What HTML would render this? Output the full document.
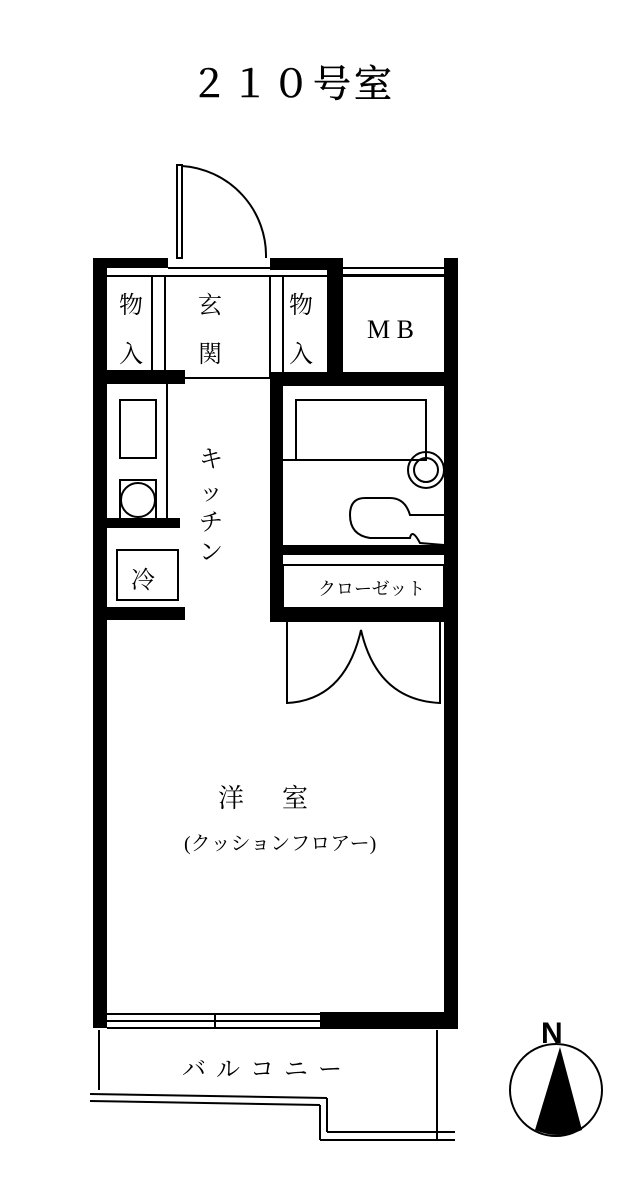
<!DOCTYPE html>
<html><head><meta charset="utf-8"><style>
html,body{margin:0;padding:0;background:#fff}
svg{display:block}
text{font-family:"Liberation Serif","Noto Serif CJK SC",serif;fill:#000}
</style></head><body>
<svg width="627" height="1190" viewBox="0 0 627 1190" xmlns="http://www.w3.org/2000/svg">
<rect width="627" height="1190" fill="#fff"/>
<text x="190" y="97" font-size="38" letter-spacing="3" stroke="#000" stroke-width="0.6">２１０号室</text>

<g fill="none" stroke="#000" stroke-width="2">
<rect x="177" y="165" width="5" height="93"/>
<path d="M182 166 A90 90 0 0 1 266 258"/>
</g>

<g fill="#000">
<rect x="93" y="258" width="14" height="770"/>
<rect x="444" y="258" width="14" height="770"/>
<rect x="93" y="258" width="75" height="10"/>
<rect x="270" y="258" width="73" height="12"/>
<rect x="327" y="258" width="16" height="120"/>
<rect x="93" y="370" width="92" height="14"/>
<rect x="270" y="372" width="188" height="14"/>
<rect x="270" y="372" width="13" height="250"/>
<rect x="270" y="545" width="188" height="10"/>
<rect x="270" y="608" width="188" height="14"/>
<rect x="107" y="518" width="73" height="10"/>
<rect x="107" y="607" width="78" height="13"/>
<rect x="93" y="1012" width="14" height="16"/>
<rect x="320" y="1012" width="138" height="16"/>
</g>
<g fill="none" stroke="#000" stroke-width="2">
<line x1="168" y1="268" x2="270" y2="268"/>
<line x1="107" y1="276" x2="444" y2="276"/>
<line x1="343" y1="268" x2="444" y2="268"/>
<line x1="343" y1="275" x2="444" y2="275"/>
<line x1="152" y1="276" x2="152" y2="370"/>
<line x1="165" y1="276" x2="165" y2="378"/>
<line x1="270" y1="276" x2="270" y2="378"/>
<line x1="283" y1="276" x2="283" y2="372"/>
<line x1="165" y1="378" x2="270" y2="378"/>
<line x1="167" y1="384" x2="167" y2="518"/>
<rect x="120" y="400" width="36" height="58"/>
<rect x="120" y="480" width="36" height="40"/>
<circle cx="138" cy="500" r="17"/>
<rect x="117" y="550" width="61" height="50"/>
<rect x="296" y="400" width="130" height="60"/>
<circle cx="426" cy="470" r="18"/>
<circle cx="426" cy="470" r="12"/>
<path d="M444 515 L410 515 Q405 498 390 498 L365 498 Q350 498 350 515 Q350 535 370 538 L410 538 Q412 528 420 543 L444 545"/>
<line x1="283" y1="460" x2="296" y2="460"/>
<rect x="283" y="565" width="161" height="43"/>
<path d="M287 622 L287 703 Q345 700 361 630 Q377 700 440 703 L440 622"/>
<line x1="107" y1="1014" x2="320" y2="1014"/>
<line x1="107" y1="1021" x2="320" y2="1021"/>
<line x1="215" y1="1014" x2="215" y2="1028"/>
<line x1="107" y1="1028" x2="458" y2="1028"/>
<line x1="99" y1="1030" x2="99" y2="1090"/>
<line x1="437" y1="1030" x2="437" y2="1140"/>
<line x1="90" y1="1094" x2="327" y2="1098"/>
<line x1="90" y1="1101" x2="320" y2="1105"/>
<line x1="327" y1="1098" x2="327" y2="1132"/>
<line x1="320" y1="1105" x2="320" y2="1140"/>
<line x1="327" y1="1132" x2="455" y2="1132"/>
<line x1="320" y1="1140" x2="455" y2="1140"/>
<circle cx="556" cy="1090" r="46"/>
</g>
<path d="M535 1130 L560 1047 L582 1130 Q558 1140 535 1130Z" fill="#000"/>
<text x="541" y="1043" font-weight="bold" font-size="30" style="font-family:'Liberation Sans',sans-serif">N</text>

<g font-size="24">
<text x="119" y="313">物</text><text x="119" y="362">入</text>
<text x="198" y="313">玄</text><text x="198" y="362">関</text>
<text x="289" y="313">物</text><text x="289" y="362">入</text>
<text x="367" y="338" font-size="26">M B</text>
<text x="199" y="467">キ</text><text x="199" y="500">ッ</text>
<text x="199" y="530">チ</text><text x="199" y="560">ン</text>
<text x="131" y="588">冷</text>
<text x="318" y="595" font-size="18">クローゼット</text>
<text x="218" y="807" font-size="26" letter-spacing="38">洋室</text>
<text x="184" y="850" font-size="20">(クッションフロアー)</text>
<text x="182" y="1077" font-size="24" letter-spacing="10">バルコニー</text>
</g>
</svg>
</body></html>
